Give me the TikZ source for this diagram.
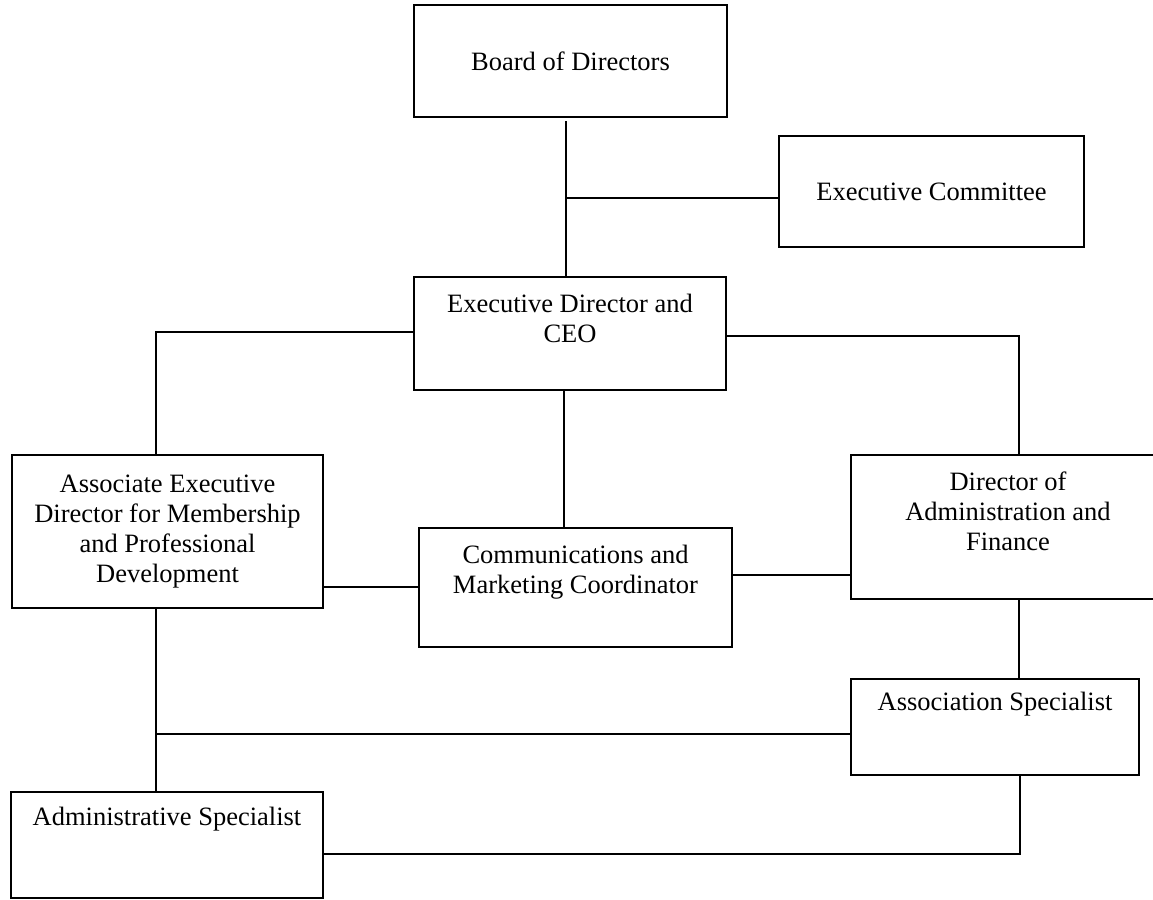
\documentclass[tikz,border=0pt]{standalone}
\usepackage{fontspec}
\setmainfont{Liberation Serif}
\usetikzlibrary{calc}
\tikzset{
  orgbox/.style={draw=black, line width=1.6pt, rectangle, inner sep=0pt, outer sep=0pt,
    font=\fontsize{26.5}{30}\selectfont},
  txt/.style={inner sep=0pt, outer sep=0pt, align=center, anchor=north,
    font=\fontsize{26.5}{30}\selectfont},
  link/.style={draw=black, line width=1.5pt}
}
\begin{document}
\begin{tikzpicture}[x=1pt,y=-1pt]
\useasboundingbox (0,0) rectangle (1153,899);
% boxes
\node[orgbox, minimum width=313pt, minimum height=112pt] (board) at (570.5,61) {Board of Directors};
\node[orgbox, minimum width=305pt, minimum height=111pt] (ec) at (931.5,191.5) {Executive Committee};
\node[orgbox, minimum width=312pt, minimum height=113pt] (ed) at (570,333.5) {};
\node[orgbox, minimum width=311pt, minimum height=153pt] (assoc) at (167.5,531.5) {};
\node[orgbox, minimum width=313pt, minimum height=119pt] (comm) at (575.5,587.5) {};
\node[orgbox, minimum width=314pt, minimum height=144pt] (dir) at (1008,527) {};
\node[orgbox, minimum width=288pt, minimum height=96pt] (as) at (995,727) {};
\node[orgbox, minimum width=312pt, minimum height=106pt] (admin) at (167,845) {};
% texts
\node[txt] (edt) at ($(ed.north)+(0,14)$) {\strut Executive Director and\\CEO};
\node[txt] (assoct) at ($(assoc.north)+(0,16)$) {\strut Associate Executive\\Director for Membership\\and Professional\\Development};
\node[txt] (commt) at ($(comm.north)+(0,14)$) {\strut Communications and\\Marketing Coordinator};
\node[txt] (dirt) at ($(dir.north)+(0,14)$) {\strut Director of\\Administration and\\Finance};
\node[txt] (ast) at ($(as.north)+(0,10)$) {\strut Association Specialist};
\node[txt] (admint) at ($(admin.north)+(0,12)$) {\strut Administrative Specialist};
% junction coordinates
\coordinate (j1) at (566,198);
\coordinate (cl) at (156,332);
\coordinate (cr) at (1019,336);
\coordinate (cm) at (564,460);
\coordinate (ac) at (370,587);
\coordinate (cd) at (790,575);
\coordinate (hl) at (156,734);
\coordinate (br) at (1020,854);
% connectors
\draw[link] ($(j1 |- board.south)+(0,4)$) -- (j1 |- ed.north);
\draw[link] (j1) -- (j1 -| ec.west);
\draw[link] (cl -| ed.west) -- (cl) -- (cl |- assoc.north);
\draw[link] (cr -| ed.east) -- (cr) -- (cr |- dir.north);
\draw[link] (cm |- ed.south) -- (cm |- comm.north);
\draw[link] (ac -| assoc.east) -- (ac -| comm.west);
\draw[link] (cd -| comm.east) -- (cd -| dir.west);
\draw[link] (cr |- dir.south) -- (cr |- as.north);
\draw[link] (cl |- assoc.south) -- (cl |- admin.north);
\draw[link] (hl) -- (hl -| as.west);
\draw[link] (br -| admin.east) -- (br) -- (br |- as.south);
\end{tikzpicture}
\end{document}
